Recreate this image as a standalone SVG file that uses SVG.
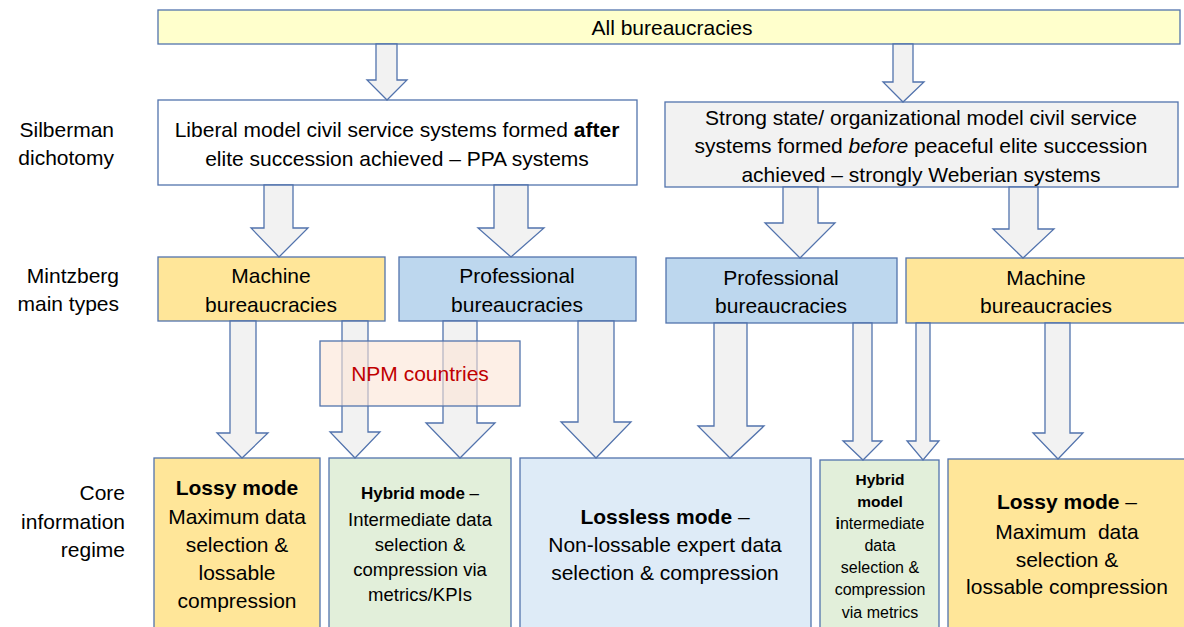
<svg xmlns="http://www.w3.org/2000/svg" width="1184" height="627" viewBox="0 0 1184 627">
<style>
text{font-family:"Liberation Sans",Arial,sans-serif;fill:#000;text-anchor:middle}
.t21{font-size:21px}
.lbl{font-size:21px;text-anchor:end}
.b{font-weight:bold}
.box{stroke:#5273AD;stroke-width:1.3}
.arr{fill:#F2F2F2;stroke:#5273AD;stroke-width:1.3;stroke-linejoin:miter}
</style>
<rect width="1184" height="627" fill="#fff"/>

<g id="labels">
<text class="lbl" x="114" y="137">Silberman</text>
<text class="lbl" x="114" y="165">dichotomy</text>
<text class="lbl" x="119" y="283">Mintzberg</text>
<text class="lbl" x="119" y="311">main types</text>
<text class="lbl" x="125" y="500">Core</text>
<text class="lbl" x="125" y="529">information</text>
<text class="lbl" x="125" y="557">regime</text>
</g>

<g id="all">
<rect class="box" x="158" y="10" width="1022" height="34" fill="#FFFFCC"/>
<text class="t21" x="672" y="35">All bureaucracies</text>
</g>

<g id="liberal">
<rect class="box" x="158" y="100" width="479" height="85" fill="#fff"/>
<text class="t21" x="397" y="137">Liberal model civil service systems formed <tspan class="b">after</tspan></text>
<text class="t21" x="397" y="166">elite succession achieved – PPA systems</text>
</g>

<g id="strong">
<rect class="box" x="665" y="102" width="513" height="85" fill="#F2F2F2"/>
<text class="t21" x="921" y="125">Strong state/ organizational model civil service</text>
<text class="t21" x="921" y="153">systems formed <tspan font-style="italic">before</tspan> peaceful elite succession</text>
<text class="t21" x="921" y="182">achieved – strongly Weberian systems</text>
</g>

<g id="machineL">
<rect class="box" x="158" y="257" width="227" height="64" fill="#FFE699"/>
<text class="t21" x="271" y="283">Machine</text>
<text class="t21" x="271" y="312">bureaucracies</text>
</g>
<g id="profL">
<rect class="box" x="399" y="257" width="237" height="64" fill="#BDD7EE"/>
<text class="t21" x="517" y="283">Professional</text>
<text class="t21" x="517" y="312">bureaucracies</text>
</g>
<g id="profR">
<rect class="box" x="666" y="258" width="231" height="65" fill="#BDD7EE"/>
<text class="t21" x="781" y="285">Professional</text>
<text class="t21" x="781" y="313">bureaucracies</text>
</g>
<g id="machineR">
<rect class="box" x="906" y="258" width="290" height="65" fill="#FFE699"/>
<text class="t21" x="1046" y="285">Machine</text>
<text class="t21" x="1046" y="313">bureaucracies</text>
</g>

<g id="lossyL">
<rect class="box" x="154" y="458" width="166" height="180" fill="#FFE699"/>
<text class="t21 b" x="237" y="495">Lossy mode</text>
<text class="t21" x="237" y="524">Maximum data</text>
<text class="t21" x="237" y="552">selection &amp;</text>
<text class="t21" x="237" y="580">lossable</text>
<text class="t21" x="237" y="608">compression</text>
</g>
<g id="hybridL">
<rect class="box" x="329" y="458" width="182" height="180" fill="#E2EFDA"/>
<text x="420" y="499" font-size="17"><tspan class="b">Hybrid mode</tspan> –</text>
<text x="420" y="526" font-size="18.5">Intermediate data</text>
<text x="420" y="551" font-size="18.5">selection &amp;</text>
<text x="420" y="576" font-size="18.5">compression via</text>
<text x="420" y="601" font-size="18.5">metrics/KPIs</text>
</g>
<g id="lossless">
<rect class="box" x="520" y="458" width="291" height="180" fill="#DEEBF7"/>
<text class="t21" x="665" y="524"><tspan class="b">Lossless mode</tspan> –</text>
<text class="t21" x="665" y="552">Non-lossable expert data</text>
<text class="t21" x="665" y="580">selection &amp; compression</text>
</g>
<g id="hybridR">
<rect class="box" x="820" y="460" width="119" height="180" fill="#E2EFDA"/>
<text class="b" x="880" y="485" font-size="15.5">Hybrid</text>
<text class="b" x="880" y="507" font-size="15.5">model</text>
<text x="880" y="529" font-size="16"><tspan class="b">i</tspan>ntermediate</text>
<text x="880" y="551" font-size="16">data</text>
<text x="880" y="573" font-size="16">selection &amp;</text>
<text x="880" y="595" font-size="16">compression</text>
<text x="880" y="618" font-size="16">via metrics</text>
</g>
<g id="lossyR">
<rect class="box" x="948" y="459" width="250" height="180" fill="#FFE699"/>
<text class="t21" x="1067" y="509"><tspan class="b">Lossy mode</tspan> –</text>
<text class="t21" x="1067" y="539" xml:space="preserve">Maximum  data</text>
<text class="t21" x="1067" y="567">selection &amp;</text>
<text class="t21" x="1067" y="594">lossable compression</text>
</g>

<g id="connectors">
<polygon class="arr" points="376,44 397,44 397,80 407,80 387,100 367,80 376,80"/>
<polygon class="arr" points="893,44 913,44 913,82 924,82 903,102 883,82 893,82"/>
<polygon class="arr" points="264,185 293,185 293,228 308,228 279,257 251,228 264,228"/>
<polygon class="arr" points="494,185 528,185 528,228 544,228 511,257 478,228 494,228"/>
<polygon class="arr" points="783,187 818,187 818,223 835,223 800,258 765,223 783,223"/>
<polygon class="arr" points="1009,187 1038,187 1038,229 1054,229 1023,258 993,229 1009,229"/>
<polygon class="arr" points="230,321 256,321 256,433 268,433 242,458 217,433 230,433"/>
<polygon class="arr" points="342,321 368,321 368,432 380,432 355,458 330,432 342,432"/>
<polygon class="arr" points="443,321 477,321 477,423 495,423 460,458 426,423 443,423"/>
<polygon class="arr" points="578,321 614,321 614,422 631,422 596,458 561,422 578,422"/>
<polygon class="arr" points="714,323 747,323 747,426 764,426 730,458 698,426 714,426"/>
<polygon class="arr" points="853,323 872,323 872,441 882,441 863,460 843,441 853,441"/>
<polygon class="arr" points="916,323 930,323 930,441 939,441 923,460 907,441 916,441"/>
<polygon class="arr" points="1045,323 1070,323 1070,433 1083,433 1058,459 1033,433 1045,433"/>
</g>

<g id="npm">
<rect x="320" y="341" width="200" height="65" fill="#FBE5D6" fill-opacity="0.6" stroke="#5273AD" stroke-width="1.3"/>
<text x="420" y="381" font-size="21" style="fill:#C00000">NPM countries</text>
</g>
</svg>
